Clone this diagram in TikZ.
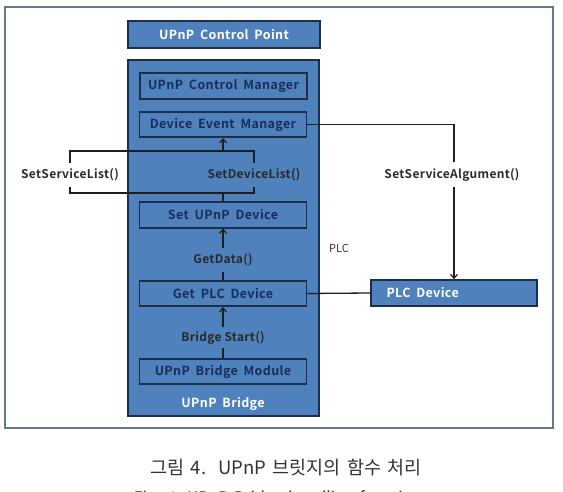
\documentclass[tikz,border=0pt]{standalone}
\usepackage{fontspec}
\setmainfont{Noto Sans CJK KR}
\newfontfamily\boxfont{Noto Sans CJK KR Bold}[LetterSpace=3, WordSpace=1.8]
\newfontfamily\fnfont{Noto Sans CJK KR Bold}[LetterSpace=2.5]
\newfontfamily\capfont{Noto Sans CJK KR}[WordSpace=1.5]
\usetikzlibrary{arrows.meta}
\definecolor{boxfill}{HTML}{4F81BD}
\definecolor{boxline}{HTML}{1C2E4A}
\definecolor{navytext}{HTML}{1A2E5A}
\definecolor{framecol}{HTML}{64788F}
\definecolor{linecol}{HTML}{1E1E1E}
\definecolor{fntext}{HTML}{2A2A2A}
\definecolor{captext}{HTML}{333333}
\tikzset{
  bluebox/.style={draw=boxline, line width=1.6pt, fill=boxfill, rectangle, inner sep=0pt},
  innerbox/.style={bluebox, minimum width=167pt, minimum height=25.5pt, text=navytext, font=\boxfont\fontsize{12.5}{14}\selectfont},
  whitetxt/.style={text=white, font=\boxfont\fontsize{12.5}{14}\selectfont},
  fnlabel/.style={inner sep=0pt, minimum height=23pt, text=fntext, font=\fnfont\fontsize{12}{14}\selectfont},
  conn/.style={draw=linecol, line width=1.3pt},
  arr/.style={conn, -{Straight Barb[length=4pt,width=7pt,line width=1.2pt]}}
}
\begin{document}
\begin{tikzpicture}[x=1pt,y=-1pt]
\useasboundingbox (0,0) rectangle (563,492);
% outer frame
\draw[framecol, line width=2.4pt] (5,7) rectangle (553,428);

% top box
\node[bluebox, minimum width=192pt, minimum height=27pt, whitetxt] (cp) at (224,34.5) {UPnP Control Point};
% bridge container
\node[bluebox, minimum width=191pt, minimum height=356pt] (bridge) at (223.5,238) {};
\node[whitetxt] (bridgelbl) at (223,404) {UPnP Bridge};

% inner boxes
\node[innerbox] (ucm) at (223.5,86) {UPnP Control Manager};
\node[innerbox] (dem) at (223,124.5) {Device Event Manager};
\node[innerbox] (sud) at (223,215) {Set UPnP Device};
\node[innerbox] (gpd) at (223,293.5) {Get PLC Device};
\node[innerbox] (ubm) at (223,371.5) {UPnP Bridge Module};

% PLC device
\node[bluebox, minimum width=166pt, minimum height=26pt] (plc) at (454,293) {};
\node[whitetxt, anchor=west] (plctxt) at (383,293) {PLC Device};

% function labels
\node[fnlabel] (ssl) at (70,175) {SetServiceList()};
\node[fnlabel] (sdl) at (254,175) {SetDeviceList()};
\node[fnlabel] (gd) at (223,260) {GetData()};
\node[fnlabel, minimum height=21pt] (bs) at (223,337.5) {Bridge Start()};
\node[fnlabel] (sal) at (452,175) {SetServiceAlgument()};
\node[inner sep=0pt, text=captext, font=\fontsize{11}{13}\selectfont] (plclbl) at (339,248) {PLC};

% loop coordinates
\coordinate (lt) at (70,151);
\coordinate (rt) at (254,151);
\coordinate (lb) at (70,193);
\coordinate (rb) at (254,193);
\coordinate (mt) at (223,151);
\coordinate (mb) at (223,193);
\coordinate (salc) at (454,124.5);
\coordinate (sals) at (454,187);
\coordinate (saln) at (454,162);

\draw[conn] (ssl.north) -- (lt) -- (rt) -- (sdl.north);
\draw[conn] (ssl.south) -- (lb) -- (rb) -- (sdl.south);
\draw[arr] (mt) -- (dem.south);
\draw[conn] (mb) -- (sud.north);

\draw[arr] (gd.north) -- (sud.south);
\draw[conn] (gd.south) -- (gpd.north);
\draw[arr] (bs.north) -- (gpd.south);
\draw[conn] (bs.south) -- (ubm.north);

\draw[conn] (gpd.east) -- (plc.west);
\draw[conn] (dem.east) -- (salc) -- (saln);
\draw[arr] (sals) -- (plc.north);

% caption
\node[text=captext, font=\capfont\fontsize{18.5}{20}\selectfont] (cap1) at (286,468) {그림 4.\ \ UPnP 브릿지의 함수 처리};
\node[text=captext, font=\capfont\fontsize{16}{18}\selectfont] (cap2) at (278,499) {Fig. 4. UPnP Bridge handling function};
\end{tikzpicture}
\end{document}
